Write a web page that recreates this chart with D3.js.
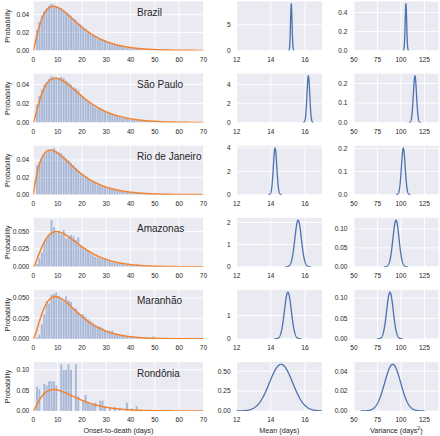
<!DOCTYPE html>
<html><head><meta charset="utf-8">
<script src="https://cdn.jsdelivr.net/npm/d3@7"></script>
<style>body{margin:0;background:#fff} text{font-family:"Liberation Sans",Arial,sans-serif;fill:#262626}</style>
</head><body><svg id="c" width="440" height="436"></svg>
<script>
// ---------- data ----------
const regions = ["Brazil", "São Paulo", "Rio de Janeiro", "Amazonas", "Maranhão", "Rondônia"];
// histogram bar heights (probability) for onset-to-death day 1, 2, 3, ...
const histBrazil = [.023,.032,.039,.044,.047,.050,.052,.050,.049,.048,.047,.045,.043,.041,.039,.036,.034,.031,.029,.026,.024,.021,.019,.017,.016,.014,.013,.012,.011,.0095,.0085,.0076,.0067,.0059,.0052,.0046,.0040,.0035,.0031,.0027,.0024,.0021,.0018,.0016,.0014,.0012,.0011,.0009,.0008,.0007,.0006,.0005,.0005,.0004,.0003,.0003,.0003,.0002,.0002,.0002,.0001,.0001,.0001,.0001,.0001];
const histSaoPaulo = [.019,.028,.035,.040,.043,.046,.049,.047,.047,.047,.048,.047,.044,.042,.040,.037,.036,.034,.030,.027,.025,.023,.021,.018,.016,.015,.014,.012,.011,.010,.0095,.0085,.0075,.0066,.0058,.0050,.0045,.0040,.0035,.0030,.0028,.0025,.0022,.0019,.0017,.0015,.0013,.0011,.0010,.0009,.0008,.0007,.0006,.0005,.0005,.0004,.0004,.0003,.0003,.0002,.0001,.0001,.0001,.0001];
const histRio = [.034,.038,.043,.046,.049,.051,.052,.054,.051,.049,.048,.045,.042,.040,.037,.034,.031,.028,.025,.023,.021,.019,.017,.015,.014,.012,.011,.010,.009,.008,.0072,.0065,.0058,.0052,.0046,.0040,.0036,.0032,.0029,.0026,.0023,.0020,.0018,.0016,.0014,.0012,.0011,.0010,.0009,.0008,.0007,.0006,.0005,.0004,.0004,.0003,.0003,.0002,.0002,.0002,.0001,.0001,.0001];
const histAmazonas = [.004,.012,.020,.035,.040,.045,.066,.056,.048,.051,.046,.052,.040,.041,.045,.043,.038,.042,.030,.028,.026,.023,.019,.016,.014,.013,.012,.011,.010,.009,.008,.006,.0065,.005,.005,.004,.0035,.003,.003,.0025,.002,.004,.0015,.0015,.001,.001,.001,.0008,.0006,.0005,.0004,.0003,.0003,.0002,.0002,.0001,.0001];
const histMaranhao = [.002,.005,.018,.030,.046,.043,.054,.055,.057,.052,.050,.046,.052,.047,.045,.038,.037,.033,.030,.030,.027,.024,.022,.019,.017,.015,.015,.013,.011,.010,.009,.010,.007,.006,.005,.004,.005,.003,.003,.0025,.002,.002,.0015,.0015,.001,.001,.001,.001,.003,.0005,.0005,.0004,.0003,.0002,.0002,.0001];
const histRondonia = [.059,.053,0,.066,.062,.072,.072,.072,.062,0,.113,.100,.100,.113,.100,0,.113,.035,0,.025,.039,.020,.015,.015,.020,0,.025,.025,.012,0,.010,0,.010,0,.008,0,0,.020,0,.006,0,.012];
const histograms = [histBrazil, histSaoPaulo, histRio, histAmazonas, histMaranhao, histRondonia];

// posterior of the mean (days) and of the variance (days^2): centre and spread
const meanCenter = [15.2, 16.2, 14.25, 15.6, 15.0, 14.6];
const meanSd     = [0.044, 0.081, 0.10, 0.19, 0.20, 0.68];
const varCenter  = [105.3, 114.9, 102.5, 94.7, 88.3, 91.2];
const varSd      = [0.81, 1.67, 1.98, 3.24, 3.5, 8.5];

// tick values
const onsetTicks = [0, 10, 20, 30, 40, 50, 60, 70];
const meanTicks = [12, 14, 16];
const varTicks = [50, 75, 100, 125];
const probTicks = [[0,0.02,0.04],[0,0.02,0.04],[0,0.02,0.04],[0,0.025,0.05],[0,0.025,0.05],[0,0.05,0.1]];
const probFmt = [".2f",".2f",".2f",".3f",".3f",".2f"];
const meanYTicks = [[0,5],[0,2,4],[0,2,4],[0,1,2],[0,1],[0,0.25,0.5]];
const meanYFmt = ["d","d","d","d","d",".2f"];
const varYTicks = [[0,0.2,0.4],[0,0.1,0.2],[0,0.1,0.2],[0,0.05,0.1],[0,0.05,0.1],[0,0.02,0.04]];
const varYFmt = [".1f",".1f",".1f",".2f",".2f",".2f"];

// ---------- helpers ----------
function gammaFn(z){
  const g=7, p=[0.99999999999980993,676.5203681218851,-1259.1392167224028,771.32342877765313,-176.61503916999185,12.507343278686905,-0.13857109526572012,9.9843695780195716e-6,1.5056327351493116e-7];
  if(z<0.5) return Math.PI/(Math.sin(Math.PI*z)*gammaFn(1-z));
  z-=1; let x=p[0]; for(let i=1;i<g+2;i++) x+=p[i]/(z+i);
  const t=z+g+0.5; return Math.sqrt(2*Math.PI)*Math.pow(t,z+0.5)*Math.exp(-t)*x;
}
function gammaPdf(x,m,v){ const k=m*m/v, th=v/m; if(x<=0) return 0;
  return Math.exp((k-1)*Math.log(x)-x/th-Math.log(gammaFn(k))-k*Math.log(th)); }
function normPdf(x,m,s){ return Math.exp(-0.5*((x-m)/s)**2)/(s*Math.sqrt(2*Math.PI)); }

const svg = d3.select("#c");
const cols = [{x0:33.3,x1:203.5,dom:[0,70],ticks:onsetTicks,pad:4},
              {x0:236.7,x1:322,dom:[12,17],ticks:meanTicks,pad:6},
              {x0:354,x1:438.5,dom:[50,140],ticks:varTicks,pad:6.5}];
const rowH = 49;
const rowBottom = i => 50.5 + 72.1*i;
let clipId = 0;

function panel(ci, ri, yMax, yTicks, yFmt){
  const c = cols[ci], bot = rowBottom(ri), top = bot - rowH;
  const x = d3.scaleLinear().domain(c.dom).range([c.x0, c.x1]);
  const y = d3.scaleLinear().domain([0, yMax]).range([bot, top]);
  const g = svg.append("g");
  g.append("rect").attr("x",c.x0).attr("y",top).attr("width",c.x1-c.x0).attr("height",rowH).attr("fill","#EAEAF2");
  const id = "cl"+(clipId++);
  g.append("clipPath").attr("id",id).append("rect").attr("x",c.x0).attr("y",top).attr("width",c.x1-c.x0).attr("height",rowH);
  g.selectAll(".gx").data(c.ticks).join("line").attr("x1",d=>x(d)).attr("x2",d=>x(d)).attr("y1",top).attr("y2",bot)
    .attr("stroke","#fff").attr("stroke-width",0.9);
  g.selectAll(".gy").data(yTicks).join("line").attr("x1",c.x0).attr("x2",c.x1).attr("y1",d=>y(d)).attr("y2",d=>y(d))
    .attr("stroke","#fff").attr("stroke-width",0.9);
  g.selectAll(".tx").data(c.ticks).join("text").attr("x",d=>x(d)).attr("y",bot+11.2).attr("text-anchor","middle")
    .attr("font-size",6.6).text(d=>d);
  const f = d3.format(yFmt);
  g.selectAll(".ty").data(yTicks).join("text").attr("x",c.x0-c.pad).attr("y",d=>y(d)).attr("dy","0.35em").attr("text-anchor","end")
    .attr("font-size",6.6).text(d=>f(d));
  const inner = g.append("g").attr("clip-path",`url(#${id})`);
  return {x,y,inner,top,bot};
}

regions.forEach((name, ri) => {
  // column 1: histogram + fitted gamma
  const hist = histograms[ri];
  const curve = d3.range(0, 70.001, 0.2).map(t => [t, gammaPdf(t, meanCenter[ri], varCenter[ri])]);
  const yMax1 = Math.max(d3.max(hist), d3.max(curve, d=>d[1])) * 1.05;
  const p1 = panel(0, ri, yMax1, probTicks[ri], probFmt[ri]);
  p1.inner.selectAll("rect.bar").data(hist.map((v,i)=>({d:i+1,v}))).join("rect")
    .attr("x",d=>p1.x(d.d)+0.25).attr("width",d=>Math.max(0.3,p1.x(d.d+1)-p1.x(d.d)-0.5))
    .attr("y",d=>p1.y(d.v)).attr("height",d=>p1.y(0)-p1.y(d.v))
    .attr("fill","#4C72B0").attr("fill-opacity",0.42);
  p1.inner.append("path").datum(curve).attr("fill","none").attr("stroke","#F28331").attr("stroke-width",1.5)
    .attr("d", d3.line().x(d=>p1.x(d[0])).y(d=>p1.y(d[1])));
  svg.append("text").attr("x",137).attr("y",p1.top+14.5).attr("font-size",10).text(name);

  // column 2: posterior of mean
  const mPeak = normPdf(meanCenter[ri], meanCenter[ri], meanSd[ri]);
  const p2 = panel(1, ri, mPeak*1.05, meanYTicks[ri], meanYFmt[ri]);
  const mc = d3.range(-4, 4.001, 0.05).map(s => { const t = meanCenter[ri]+s*meanSd[ri]; return [t, normPdf(t, meanCenter[ri], meanSd[ri])]; });
  p2.inner.append("path").datum(mc).attr("fill","none").attr("stroke","#4C72B0").attr("stroke-width",1.3)
    .attr("d", d3.line().x(d=>p2.x(d[0])).y(d=>p2.y(d[1])));

  // column 3: posterior of variance
  const vPeak = normPdf(varCenter[ri], varCenter[ri], varSd[ri]);
  const p3 = panel(2, ri, vPeak*1.05, varYTicks[ri], varYFmt[ri]);
  const vc = d3.range(-4, 4.001, 0.05).map(s => { const t = varCenter[ri]+s*varSd[ri]; return [t, normPdf(t, varCenter[ri], varSd[ri])]; });
  p3.inner.append("path").datum(vc).attr("fill","none").attr("stroke","#4C72B0").attr("stroke-width",1.3)
    .attr("d", d3.line().x(d=>p3.x(d[0])).y(d=>p3.y(d[1])));

  // y label
  const cy = (p1.top + p1.bot)/2;
  svg.append("text").attr("transform",`translate(9.5,${cy}) rotate(-90)`).attr("text-anchor","middle")
    .attr("font-size",7.2).text("Probability");
});

// x labels
svg.append("text").attr("x",(cols[0].x0+cols[0].x1)/2).attr("y",433).attr("text-anchor","middle").attr("font-size",7.2).text("Onset-to-death (days)");
svg.append("text").attr("x",(cols[1].x0+cols[1].x1)/2).attr("y",433).attr("text-anchor","middle").attr("font-size",7.2).text("Mean (days)");
const vl = svg.append("text").attr("x",(cols[2].x0+cols[2].x1)/2).attr("y",433).attr("text-anchor","middle").attr("font-size",7.2);
vl.append("tspan").text("Variance (days");
vl.append("tspan").attr("dy",-3).attr("font-size",5).text("2");
vl.append("tspan").attr("dy",3).text(")");
</script></body></html>
